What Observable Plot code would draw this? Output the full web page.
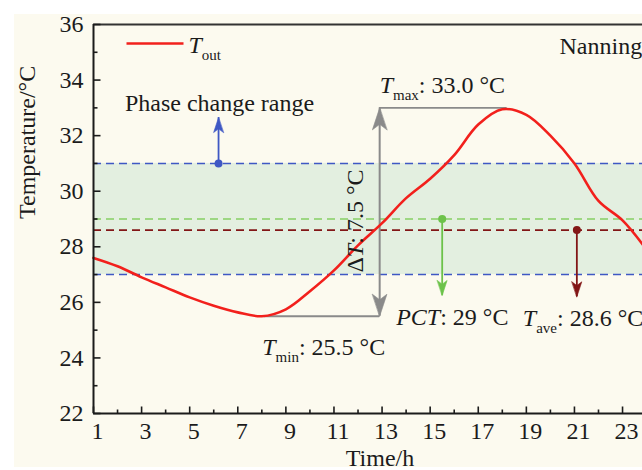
<!DOCTYPE html>
<html><head><meta charset="utf-8">
<script src="https://cdn.jsdelivr.net/npm/d3@7"></script>
<script src="https://cdn.jsdelivr.net/npm/@observablehq/plot@0.6"></script>
<style>
html,body{margin:0;padding:0;background:#fff;}
#wrap{position:relative;width:642px;height:470px;overflow:hidden;background:#fff;}
#panel{position:absolute;left:14px;top:14px;width:628px;height:453px;background:#fcfaef;}
#chart{position:absolute;left:0;top:0;}
</style></head><body>
<div id="wrap"><div id="panel"></div><div id="chart"></div></div>
<script>
// ---- data ----
const hours = [1,2,3,4,5,6,7,8,9,10,11,12,13,14,15,16,17,18,19,20,21,22,23,24];
const tOut  = [27.6,27.3,26.9,26.54,26.18,25.88,25.64,25.5,25.75,26.4,27.15,28.05,28.85,29.75,30.45,31.3,32.4,32.95,32.75,32.0,31.0,29.65,28.95,27.9];
const xTicks = [1,3,5,7,9,11,13,15,17,19,21,23];
const xMinor = [2,4,6,8,10,12,14,16,18,20,22];
const yTicks = [22,24,26,28,30,32,34,36];
const yMinor = [23,25,27,29,31,33,35];
const phaseRange = [27, 31];
const pct = 29, tAve = 28.6, tMax = 33.0, tMin = 25.5;
// annotation anchors (hour, temperature)
const rangeMark = [6.2, 31, 32.65];   // hour, dot, arrow tip
const pctMark   = [15.5, 29, 26.25];
const aveMark   = [21.1, 28.6, 26.2];
const deltaHour = 12.9, tMaxHour = 18.2, tMinHour = 8.1;
const rangeLabel = "Phase change range";
const maxLabel = "T_max: 33.0 °C";
const minLabel = "T_min: 25.5 °C";
const pctLabel = "PCT: 29 °C";
const aveLabel = "T_ave: 28.6 °C";
const deltaLabel = "ΔT: 7.5 °C";
const legendLabel = "T_out";
const cityLabel = "Nanning";
const xTitle = "Time/h", yTitle = "Temperature/°C";

// ---- styles ----
const serif = "'Liberation Serif','Times New Roman',serif";
const cRed = "#f2201c", cBlue = "#3f58c4", cGreen = "#6cc24a", cGreenDash = "#86cf64", cDark = "#821616", cGray = "#8a8a8a", cInk = "#1b1b1b";
const head = {draw(ctx, l) { const w = l * 0.33; ctx.moveTo(0, -l); ctx.lineTo(-w, 0); ctx.lineTo(0, -l * 0.25); ctx.lineTo(w, 0); ctx.closePath(); }};
const stick = {draw(ctx, l) { ctx.moveTo(0, 0); ctx.lineTo(0, -l); }};
const curveData = hours.map((h, i) => ({h, t: tOut[i]}));

function arrowMarks([h, y0, y1], color) {
  const up = y1 > y0;
  return [
    Plot.ruleX([h], {y1: y0, y2: y1, stroke: color, strokeWidth: 1.8}),
    Plot.vector([h], {x: d => d, y: y1, rotate: up ? 0 : 180, anchor: "end", length: 15, shape: head, fill: color, stroke: color, strokeWidth: 0.6}),
    Plot.dot([h], {x: d => d, y: y0, r: 4, fill: color, stroke: "none"})
  ];
}
const tick = (data, opts) => Plot.vector(data, {anchor: "start", shape: stick, stroke: cInk, strokeWidth: 1.6, strokeLinecap: "butt", ...opts});

const plot = Plot.plot({
  width: 642, height: 470,
  marginLeft: 93, marginRight: 0, marginTop: 24, marginBottom: 57,
  style: {fontFamily: serif, fontSize: "24px", background: "transparent", color: cInk, overflow: "hidden"},
  x: {domain: [1, 23.83], axis: null},
  y: {domain: [22, 36], axis: null},
  marks: [
    Plot.rect([0], {x1: 1, x2: 24, y1: phaseRange[0], y2: phaseRange[1], fill: "#e3efe0"}),
    Plot.ruleY([phaseRange[0], phaseRange[1]], {stroke: cBlue, strokeWidth: 1.6, strokeDasharray: "8,5"}),
    Plot.ruleY([pct], {stroke: cGreenDash, strokeWidth: 1.6, strokeDasharray: "8,5"}),
    Plot.ruleY([tAve], {stroke: cDark, strokeWidth: 1.6, strokeDasharray: "8,5"}),
    // gray delta-T annotation
    Plot.ruleY([tMax], {x1: deltaHour, x2: tMaxHour, stroke: cGray, strokeWidth: 1.8}),
    Plot.ruleY([tMin], {x1: tMinHour, x2: deltaHour, stroke: cGray, strokeWidth: 1.8}),
    Plot.ruleX([deltaHour], {y1: tMin, y2: tMax, stroke: cGray, strokeWidth: 2}),
    Plot.vector([deltaHour], {x: d => d, y: tMax, rotate: 0, anchor: "end", length: 22, shape: head, fill: cGray, stroke: cGray, strokeWidth: 0.6}),
    Plot.vector([deltaHour], {x: d => d, y: tMin, rotate: 180, anchor: "end", length: 22, shape: head, fill: cGray, stroke: cGray, strokeWidth: 0.6}),
    // curve
    Plot.line(curveData, {x: "h", y: "t", curve: "catmull-rom", stroke: cRed, strokeWidth: 2.6}),
    ...arrowMarks(rangeMark, cBlue),
    ...arrowMarks(pctMark, cGreen),
    ...arrowMarks(aveMark, cDark),
    // axes
    Plot.ruleY([36], {stroke: "#333", strokeWidth: 2}),
    Plot.ruleY([22], {stroke: cInk, strokeWidth: 2}),
    Plot.ruleX([1], {stroke: cInk, strokeWidth: 2}),
    tick(yTicks, {x: 1, y: d => d, rotate: 90, length: 7}),
    tick(yMinor, {x: 1, y: d => d, rotate: 90, length: 4}),
    tick(xTicks, {x: d => d, y: 22, rotate: 0, length: 7}),
    tick(xMinor, {x: d => d, y: 22, rotate: 0, length: 4}),
    Plot.text(yTicks, {x: 1, y: d => d, text: d => String(d), textAnchor: "end", dx: -10, fontSize: 24, fill: cInk}),
    Plot.text(xTicks, {x: d => d, y: 22, text: d => String(d), lineAnchor: "top", dy: 8, dx: 4, fontSize: 24, fill: cInk}),
    Plot.text([yTitle], {frameAnchor: "left", rotate: -90, dx: -66, fontSize: 24, fill: cInk}),
    Plot.text([xTitle], {frameAnchor: "bottom", lineAnchor: "bottom", dy: 52, dx: 12, fontSize: 24, fill: cInk}),
    // legend
    Plot.vector([0], {frameAnchor: "top-left", dx: 33, dy: 19, rotate: 90, anchor: "start", length: 57, shape: stick, stroke: cRed, strokeWidth: 2.6, strokeLinecap: "butt"}),
    Plot.text([legendLabel], {frameAnchor: "top-left", dx: 95, dy: 28, lineAnchor: "bottom", textAnchor: "start", fontSize: 24, fill: cInk}),
    Plot.text([cityLabel], {frameAnchor: "top-left", dx: 466, dy: 29, lineAnchor: "bottom", textAnchor: "start", fontSize: 24, fill: cInk}),
    // annotation labels
    Plot.text([rangeLabel], {x: rangeMark[0], y: rangeMark[2], lineAnchor: "bottom", textAnchor: "middle", dy: -7, dx: 1, fontSize: 24, fill: cInk}),
    Plot.text([maxLabel], {x: deltaHour, y: tMax, lineAnchor: "bottom", textAnchor: "start", dy: -15, fontSize: 24, fill: cInk}),
    Plot.text([minLabel], {x: tMinHour, y: tMin, lineAnchor: "bottom", textAnchor: "start", dy: 39, dx: -2, fontSize: 24, fill: cInk}),
    Plot.text([pctLabel], {x: pctMark[0], y: pctMark[2], lineAnchor: "bottom", textAnchor: "start", dy: 30, dx: -46, fontSize: 24, fill: cInk}),
    Plot.text([aveLabel], {x: aveMark[0], y: aveMark[2], lineAnchor: "bottom", textAnchor: "start", dy: 29, dx: -54, fontSize: 24, fill: cInk}),
    Plot.text([deltaLabel], {x: deltaHour, y: (tMax + tMin) / 2, rotate: -90, lineAnchor: "bottom", textAnchor: "middle", dx: -17, dy: 9, fontSize: 24, fill: cInk})
  ]
});

// rich text: italic symbols and subscripts
d3.select(plot).selectAll("text").each(function () {
  const s = this.textContent;
  if (!/[_:]/.test(s)) return;
  const m = s.match(/^(Δ?)([A-Z]+)(?:_([a-z]+))?(.*)$/);
  if (!m) return;
  const t = d3.select(this);
  t.text(null);
  if (m[1]) t.append("tspan").text(m[1]);
  t.append("tspan").attr("font-style", "italic").text(m[2]);
  if (m[3]) t.append("tspan").attr("font-size", 15).attr("dy", 7).text(m[3]);
  if (m[4]) t.append("tspan").attr("dy", m[3] ? -7 : null).text(m[4]);
});

document.getElementById("chart").appendChild(plot);
</script>
</body></html>
